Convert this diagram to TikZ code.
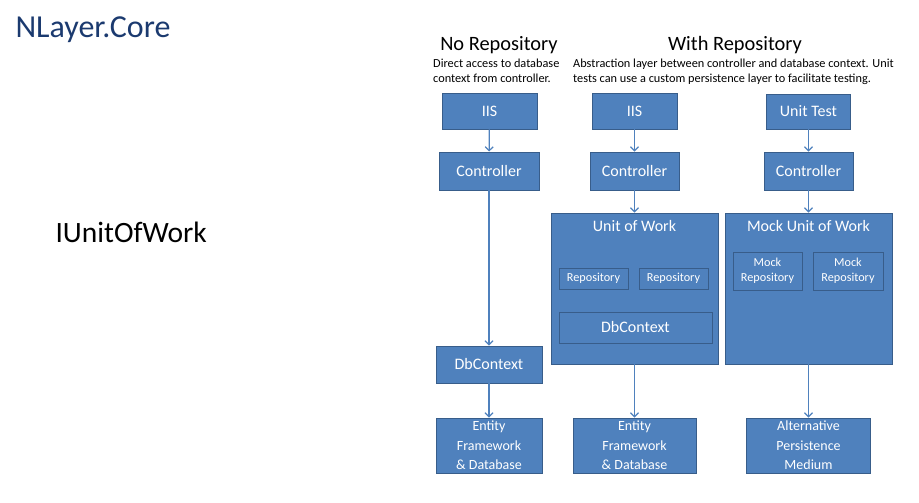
\documentclass[tikz,border=0pt]{standalone}
\usepackage{fontspec}
\setmainfont{Carlito}
\usetikzlibrary{arrows.meta}
\definecolor{boxblue}{HTML}{4F81BD}
\definecolor{boxline}{HTML}{385D8A}
\definecolor{titlenavy}{HTML}{1B3A6F}
\begin{document}
\begin{tikzpicture}[x=1pt,y=-1pt,
    block/.style={draw=boxline, fill=boxblue, text=white, line width=0.9pt, inner sep=0pt, align=center, font=\fontsize{16}{19}\selectfont},
    bigblock/.style={block, font=\fontsize{14}{19.5}\selectfont},
    smallblock/.style={block, font=\fontsize{12.2}{15}\selectfont},
    note/.style={anchor=north west, inner sep=0pt, align=left, font=\fontsize{12.3}{14.5}\selectfont},
    link/.style={draw=boxblue, line width=1.2pt, -{Straight Barb[length=4pt,width=8pt]}}]
    \useasboundingbox (0,0) rectangle (919,503);
    % headings on the left
    \node[anchor=west, text=titlenavy, font=\fontsize{32}{38}\selectfont] (slide) at (12,30) {NLayer.Core};
    \node[anchor=west, font=\fontsize{29.5}{34}\selectfont] (iface) at (52,232) {IUnitOfWork};
    % column titles
    \node[font=\fontsize{20.4}{24}\selectfont] (noRepo) at (499,45) {No Repository};
    \node[font=\fontsize{20.4}{24}\selectfont] (withRepo) at (735,45) {With Repository};
    \node[note] (noRepoText) at (433,59) {Direct access to database\\context from controller.};
    \node[note] (withRepoText) at (573,59) {Abstraction layer between controller and database context. Unit\\tests can use a custom persistence layer to facilitate testing.};
    % no repository
    \node[block, minimum width=95, minimum height=36] (iisA) at (489.5,111) {IIS};
    \node[block, minimum width=100, minimum height=38] (ctrlA) at (489,171) {Controller};
    \node[block, minimum width=106, minimum height=37] (dbA) at (489,364.5) {DbContext};
    \node[bigblock, minimum width=106, minimum height=55] (efA) at (489,445.5) {Entity\\Framework\\\& Database};
    % with repository
    \node[block, minimum width=85, minimum height=36] (iisB) at (634.5,111) {IIS};
    \node[block, minimum width=89, minimum height=38] (ctrlB) at (634.5,171) {Controller};
    \node[block, minimum width=167, minimum height=151] (uowB) at (634.5,288.5) {};
    \node[text=white, font=\fontsize{16}{19}\selectfont] (uowTitle) at (634.5,226) {Unit of Work};
    \node[smallblock, minimum width=69, minimum height=21] (repoB1) at (593.5,278.5) {Repository};
    \node[smallblock, minimum width=69, minimum height=21] (repoB2) at (673.5,278.5) {Repository};
    \node[block, minimum width=153, minimum height=31] (dbB) at (635.5,327.5) {DbContext};
    \node[bigblock, minimum width=123, minimum height=55] (efB) at (634.5,445.5) {Entity\\Framework\\\& Database};
    % unit test
    \node[block, minimum width=84, minimum height=35] (testC) at (808.5,111.5) {Unit Test};
    \node[block, minimum width=89, minimum height=38] (ctrlC) at (808.5,171) {Controller};
    \node[block, minimum width=167, minimum height=151] (mockC) at (808.5,288.5) {};
    \node[text=white, font=\fontsize{16}{19}\selectfont] (mockTitle) at (808.5,226) {Mock Unit of Work};
    \node[smallblock, minimum width=69, minimum height=38] (mrepoC1) at (767.5,271) {Mock\\Repository};
    \node[smallblock, minimum width=70, minimum height=38] (mrepoC2) at (848,271) {Mock\\Repository};
    \node[bigblock, minimum width=124, minimum height=55] (altC) at (808.5,445.5) {Alternative\\Persistence\\Medium};
    % arrows
    \draw[link] (iisA) -- (ctrlA);
    \draw[link] (ctrlA) -- (dbA);
    \draw[link] (dbA) -- (efA);
    \draw[link] (iisB) -- (ctrlB);
    \draw[link] (ctrlB) -- (uowB);
    \draw[link] (uowB) -- (efB);
    \draw[link] (testC) -- (ctrlC);
    \draw[link] (ctrlC) -- (mockC);
    \draw[link] (mockC) -- (altC);
\end{tikzpicture}
\end{document}
